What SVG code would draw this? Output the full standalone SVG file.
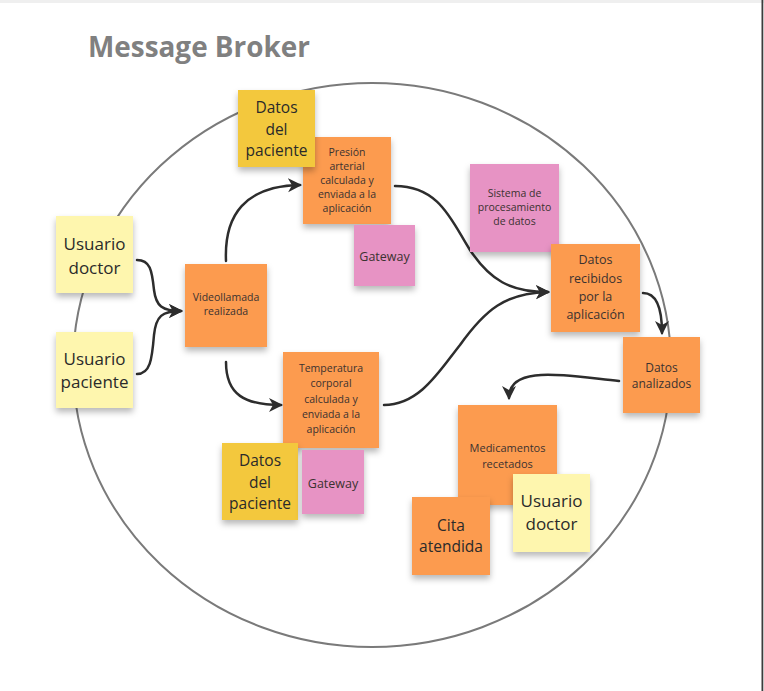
<svg xmlns="http://www.w3.org/2000/svg" width="764" height="691" viewBox="0 0 764 691">
<defs>
<filter id="sh" x="-20%" y="-20%" width="140%" height="150%">
<feDropShadow dx="0" dy="4" stdDeviation="3" flood-color="#000" flood-opacity="0.28"/>
</filter>
<marker id="ah" markerUnits="userSpaceOnUse" markerWidth="16" markerHeight="16" refX="12" refY="8" orient="auto">
<path d="M0,1 L14,8 L0,15 L4,8 Z" fill="#2d2d2d"/>
</marker>
</defs>
<style>
.orange{fill:#fc9b50;filter:url(#sh)}
.yellow{fill:#f3c83c;filter:url(#sh)}
.light{fill:#fef6ae;filter:url(#sh)}
.pink{fill:#e793c4;filter:url(#sh)}
text{font-family:"Open Sans","Liberation Sans",sans-serif;text-anchor:middle;dominant-baseline:central;fill:#2a2a2a}
.s{font-size:10.5px;fill:#3b3230}
.m{font-size:12.5px;fill:#3b3230}
.l{font-size:15.5px}
.xl{font-size:17px}
.conn path{fill:none;stroke:#2d2d2d;stroke-width:2.5;stroke-linecap:round}
</style>
<rect x="0" y="0" width="764" height="691" fill="#ffffff"/>
<rect x="0" y="0" width="764" height="3" fill="#efefef"/>
<rect x="761.5" y="0" width="1.8" height="691" fill="#3c3c3c"/>
<text x="88" y="46" style="font-size:28px;font-weight:bold;fill:#808080;text-anchor:start" textLength="222" lengthAdjust="spacingAndGlyphs">Message Broker</text>
<ellipse id="broker" cx="372" cy="365" rx="299" ry="282" fill="none" stroke="#7a7a7a" stroke-width="2"/>
<g id="connectors" class="conn">
<path d="M137,260 C150,260 152,270 154,290 C156,306 162,311 181,311" marker-end="url(#ah)"/>
<path d="M137,374 C150,374 152,360 154,335 C156,316 162,311 181,311" marker-end="url(#ah)"/>
<path d="M226,261 C224,215 245,186 300,185" marker-end="url(#ah)"/>
<path d="M226,362 C226,395 245,405 281,405" marker-end="url(#ah)"/>
<path d="M395,186 C440,186 452,222 470,250 C490,280 510,292 548,292" marker-end="url(#ah)"/>
<path d="M384,405 C420,405 440,370 460,345 C485,310 505,293 548,292" marker-end="url(#ah)"/>
<path d="M643,293 C655,293 662,305 662,333" marker-end="url(#ah)"/>
<path d="M619,381 C560,375 509,365 509,398" marker-end="url(#ah)"/>
</g>
<g id="usuario-doctor">
<rect class="light" x="56" y="216" width="77" height="77"/>
<text class="xl" x="94.5" y="243">Usuario</text>
<text class="xl" x="94.5" y="267">doctor</text>
</g>
<g id="usuario-paciente">
<rect class="light" x="56" y="332" width="77" height="76"/>
<text class="xl" x="94.5" y="358">Usuario</text>
<text class="xl" x="94.5" y="381">paciente</text>
</g>
<g id="videollamada">
<rect class="orange" x="185" y="264" width="82" height="83"/>
<text class="s" x="226" y="297">Videollamada</text>
<text class="s" x="226" y="311">realizada</text>
</g>
<g id="presion">
<rect class="orange" x="303" y="137" width="88" height="87"/>
<text class="s" x="347" y="152">Presión</text>
<text class="s" x="347" y="166">arterial</text>
<text class="s" x="347" y="180">calculada y</text>
<text class="s" x="347" y="194">enviada a la</text>
<text class="s" x="347" y="208">aplicación</text>
</g>
<g id="datos-paciente-1">
<rect class="yellow" x="238" y="90" width="77" height="77"/>
<text class="l" x="276.5" y="107">Datos</text>
<text class="l" x="276.5" y="129">del</text>
<text class="l" x="276.5" y="150">paciente</text>
</g>
<g id="gateway-1">
<rect class="pink" x="354" y="225" width="61" height="61"/>
<text class="m" x="384.5" y="256">Gateway</text>
</g>
<g id="temperatura">
<rect class="orange" x="283" y="352" width="96" height="96"/>
<text class="s" x="331" y="368">Temperatura</text>
<text class="s" x="331" y="383">corporal</text>
<text class="s" x="331" y="399">calculada y</text>
<text class="s" x="331" y="414">enviada a la</text>
<text class="s" x="331" y="429">aplicación</text>
</g>
<g id="datos-paciente-2">
<rect class="yellow" x="222" y="443" width="76" height="77"/>
<text class="l" x="260" y="460">Datos</text>
<text class="l" x="260" y="482">del</text>
<text class="l" x="260" y="503">paciente</text>
</g>
<g id="gateway-2">
<rect class="pink" x="302" y="450" width="62" height="64"/>
<text class="m" x="333" y="483">Gateway</text>
</g>
<g id="sistema">
<rect class="pink" x="470" y="164" width="89" height="88"/>
<text class="s" x="514.5" y="193">Sistema de</text>
<text class="s" x="514.5" y="207">procesamiento</text>
<text class="s" x="514.5" y="221">de datos</text>
</g>
<g id="datos-recibidos">
<rect class="orange" x="551" y="244" width="89" height="88"/>
<text class="m" x="595.5" y="259">Datos</text>
<text class="m" x="595.5" y="278">recibidos</text>
<text class="m" x="595.5" y="296">por la</text>
<text class="m" x="595.5" y="314">aplicación</text>
</g>
<g id="datos-analizados">
<rect class="orange" x="623" y="337" width="77" height="76"/>
<text class="m" x="661.5" y="367" style="font-size:12px">Datos</text>
<text class="m" x="661.5" y="383" style="font-size:12px">analizados</text>
</g>
<g id="medicamentos">
<rect class="orange" x="458" y="405" width="99" height="100"/>
<text class="s" x="507.5" y="447" style="font-size:11px">Medicamentos</text>
<text class="s" x="507.5" y="463" style="font-size:11px">recetados</text>
</g>
<g id="usuario-doctor-2">
<rect class="light" x="513" y="474" width="77" height="78"/>
<text class="xl" x="551.5" y="500">Usuario</text>
<text class="xl" x="551.5" y="523">doctor</text>
</g>
<g id="cita-atendida">
<rect class="orange" x="412" y="497" width="78" height="78"/>
<text class="l" x="451" y="525">Cita</text>
<text class="l" x="451" y="546">atendida</text>
</g>
</svg>
